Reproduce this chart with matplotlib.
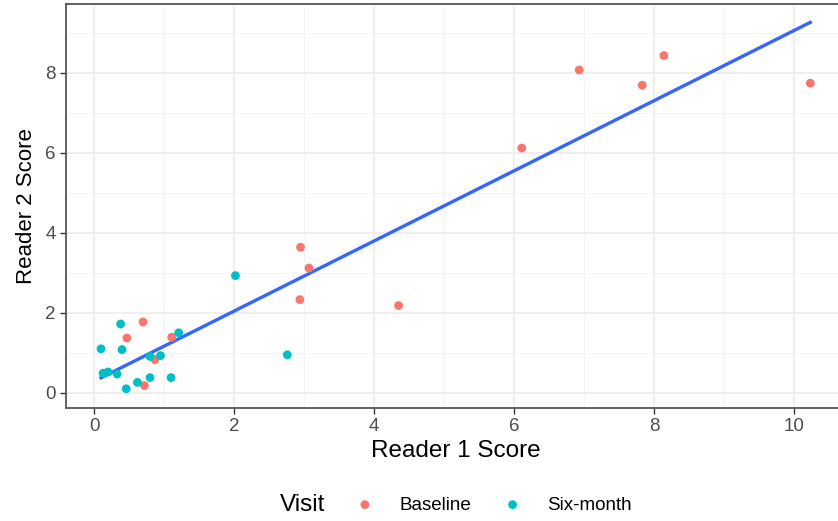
import numpy as np
import matplotlib
matplotlib.use("Agg")
from matplotlib import pyplot as plt
from matplotlib.ticker import MultipleLocator

plt.rcParams['font.family'] = ['Liberation Sans', 'DejaVu Sans']

# Reader scores per visit
base_r1 = [10.23, 8.14, 7.83, 6.93, 6.11, 2.95, 3.07, 2.94, 4.35, 0.70, 0.47, 1.11, 0.87, 0.72]
base_r2 = [7.74, 8.43, 7.69, 8.07, 6.12, 3.64, 3.12, 2.33, 2.18, 1.77, 1.37, 1.39, 0.83, 0.18]
six_r1 = [2.02, 2.76, 0.38, 0.10, 0.40, 1.21, 0.80, 0.95, 0.13, 0.20, 0.33, 0.62, 0.80, 1.10, 0.46]
six_r2 = [2.93, 0.95, 1.72, 1.10, 1.08, 1.50, 0.91, 0.93, 0.49, 0.52, 0.47, 0.26, 0.38, 0.38, 0.10]

visits = ["Baseline", "Six-month"]
colors = ["#F8766D", "#00BFC4"]

fig = plt.figure(figsize=(8.38, 5.21), dpi=100)
ax = fig.add_axes([66 / 838, 113 / 521, 780 / 838, 404 / 521])

# least squares line over all points
all_x = np.array(base_r1 + six_r1)
all_y = np.array(base_r2 + six_r2)
slope, icpt = np.polyfit(all_x, all_y, 1)
xs = np.linspace(all_x.min(), all_x.max(), 50)
ax.plot(xs, slope * xs + icpt, color="#3366FF", lw=2.4, zorder=3)

ax.scatter(base_r1, base_r2, s=40, color=colors[0], edgecolors="none", zorder=4, label=visits[0])
ax.scatter(six_r1, six_r2, s=40, color=colors[1], edgecolors="none", zorder=4, label=visits[1])

ax.set_xlim(-0.40, 10.74)
ax.set_ylim(-0.38, 9.72)
ax.xaxis.set_major_locator(MultipleLocator(2))
ax.yaxis.set_major_locator(MultipleLocator(2))
ax.xaxis.set_minor_locator(MultipleLocator(1))
ax.yaxis.set_minor_locator(MultipleLocator(1))
ax.grid(which="major", color="#EBEBEB", lw=1.1, zorder=0)
ax.grid(which="minor", color="#F2F2F2", lw=0.6, zorder=0)
ax.set_axisbelow(True)
ax.tick_params(which="major", length=4, width=1, color="#333333", labelcolor="#4D4D4D", labelsize=13.5)
ax.tick_params(which="minor", length=0)
for sp in ax.spines.values():
    sp.set_color("#555555")
    sp.set_linewidth(1.3)

ax.set_xlabel("Reader 1 Score", fontsize=17.5, labelpad=3)
ax.set_ylabel("Reader 2 Score", fontsize=16, labelpad=6)

fig.text(303 / 838, 16 / 521, "Visit", fontsize=17.5, ha="center", va="center")
fig.legend(loc="center", bbox_to_anchor=(489 / 838, 16 / 521), ncol=2, frameon=False,
           fontsize=13.5, handletextpad=0.85, columnspacing=1.2, markerscale=1.0)

fig.savefig("out.png", dpi=100)
